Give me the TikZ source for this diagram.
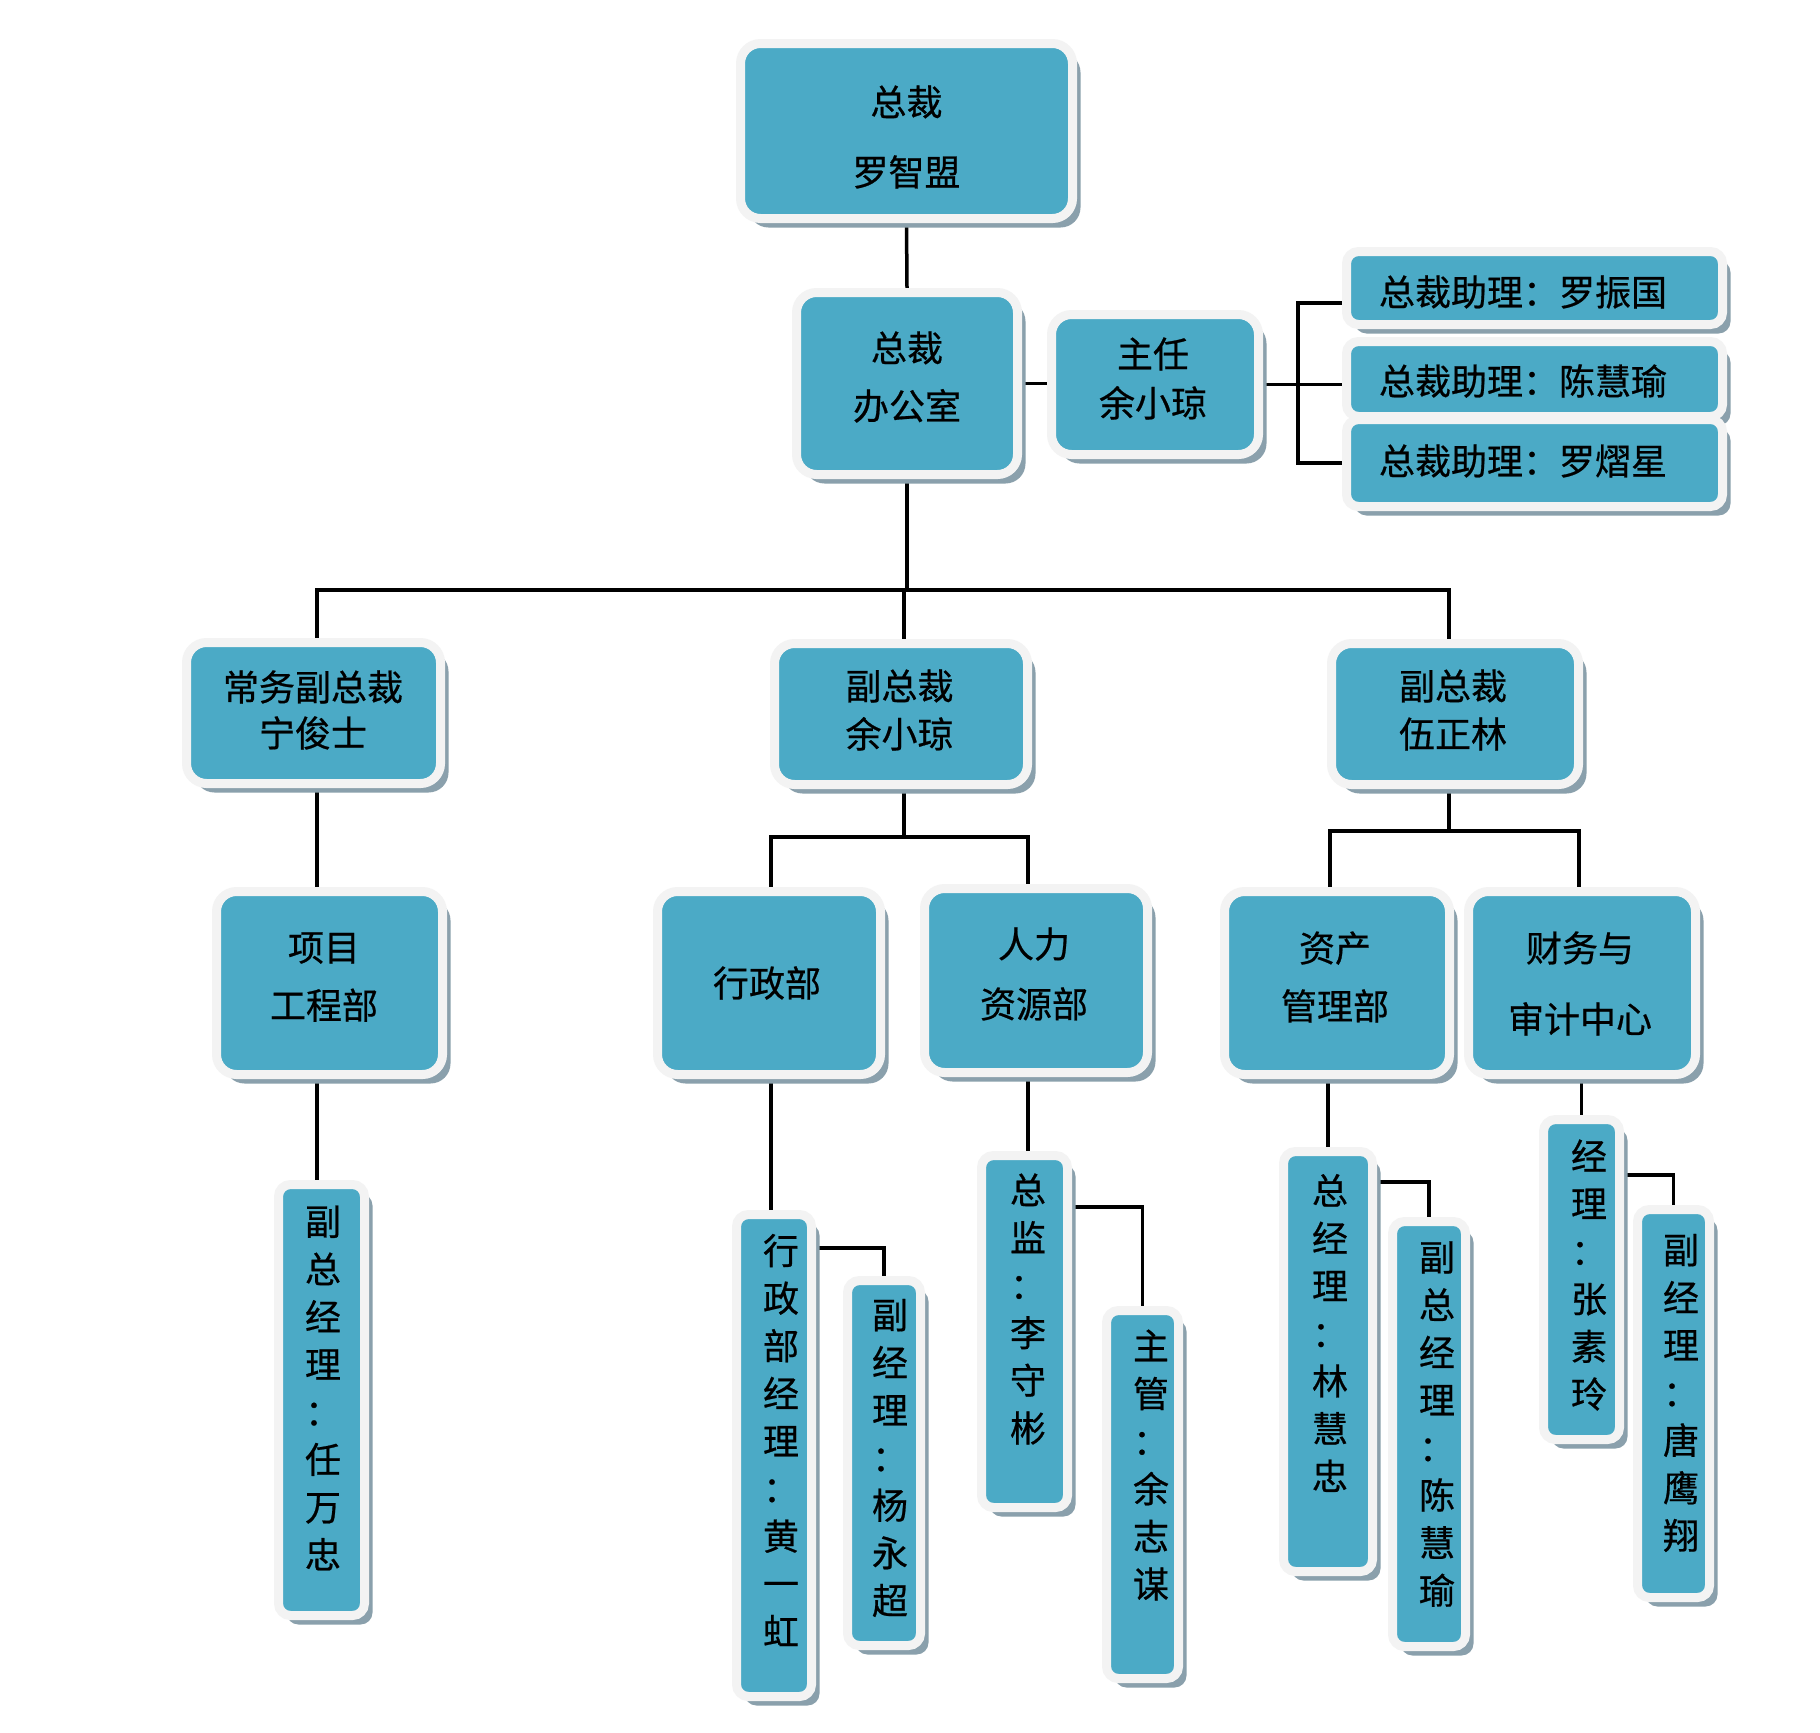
\documentclass[tikz,border=0pt]{standalone}
\usepackage{fontspec}
\setmainfont{Noto Sans CJK SC}[FakeBold=0.6]
\usetikzlibrary{shadows}
\pgfdeclarelayer{bg}
\pgfdeclarelayer{background}
\pgfsetlayers{bg,background,main}
\definecolor{boxfill}{RGB}{75,170,198}
\definecolor{boxrim}{RGB}{243,243,243}
\definecolor{boxshade}{RGB}{138,160,172}
\tikzset{
  orgbox/.style={rectangle, rounded corners=20pt, fill=boxfill, draw=boxrim, line width=9pt,
    drop shadow={shadow xshift=8pt, shadow yshift=-9pt, fill=boxshade, opacity=1}, inner sep=0pt},
  slim/.style={orgbox, rounded corners=12pt},
  lbl/.style={align=center, inner sep=0pt, text=black, font=\fontsize{36}{#1}\selectfont},
  lbl/.default=47.6,
  conn/.style={draw=black, line width=3.5pt},
}
\begin{document}
\begin{tikzpicture}[x=1pt,y=-1pt]
\begin{pgfonlayer}{bg}
  \fill[white] (0,0) rectangle (1820,1732);
\end{pgfonlayer}
\useasboundingbox (0,0) rectangle (1820,1732);

% level 0/1
\node[orgbox, minimum width=332pt, minimum height=175pt] (a) at (906.5,131) {};
\node[lbl=70] (at) at (906.5,137) {总裁\\罗智盟};
\node[orgbox, minimum width=221pt, minimum height=182pt] (b) at (907,383.5) {};
\node[lbl=58] (bt) at (907,377) {总裁\\办公室};
\node[orgbox, minimum width=207pt, minimum height=140pt] (c) at (1155,384.5) {};
\node[lbl=49] (ct) at (1153,378.5) {主任\\余小琼};

\node[slim, minimum width=376pt, minimum height=73pt] (d1) at (1534.5,288) {};
\node[lbl] (d1t) at (1523,292) {总裁助理：罗振国};
\node[slim, minimum width=376pt, minimum height=75pt] (d2) at (1534.5,379) {};
\node[lbl] (d2t) at (1523,381) {总裁助理：陈慧瑜};
\node[slim, minimum width=376pt, minimum height=87pt] (d3) at (1534.5,463) {};
\node[lbl] (d3t) at (1523,461) {总裁助理：罗熠星};

% level 2
\node[orgbox, minimum width=254pt, minimum height=141pt] (e1) at (313.5,713) {};
\node[lbl=46] (e1t) at (313,710) {常务副总裁\\宁俊士};
\node[orgbox, minimum width=253pt, minimum height=141pt] (e2) at (901,714) {};
\node[lbl=48] (e2t) at (899.5,710) {副总裁\\余小琼};
\node[orgbox, minimum width=247pt, minimum height=141pt] (e3) at (1455,714) {};
\node[lbl=48] (e3t) at (1453,710) {副总裁\\伍正林};

% level 3
\node[orgbox, minimum width=226pt, minimum height=183pt] (f1) at (329.5,983) {};
\node[lbl=58] (f1t) at (324,977) {项目\\工程部};
\node[orgbox, minimum width=223pt, minimum height=183pt] (f2) at (769,983) {};
\node[lbl] (f2t) at (767,983) {行政部};
\node[orgbox, minimum width=223pt, minimum height=184pt] (f3) at (1036,980.5) {};
\node[lbl=60] (f3t) at (1034,974) {人力\\资源部};
\node[orgbox, minimum width=225pt, minimum height=183pt] (f4) at (1337,983) {};
\node[lbl=58] (f4t) at (1335,977) {资产\\管理部};
\node[orgbox, minimum width=227pt, minimum height=183pt] (f5) at (1582,983) {};
\node[lbl=71] (f5t) at (1580,983.5) {财务与\\审计中心};

% level 4 (vertical)
\node[slim, minimum width=86pt, minimum height=431pt] (g1) at (321.5,1400) {};
\node[lbl] (g1t) at (323,1388) {副\\总\\经\\理\\：\\任\\万\\忠};
\node[slim, minimum width=75pt, minimum height=482pt] (g2) at (774,1455.5) {};
\node[lbl] (g2t) at (781,1440) {行\\政\\部\\经\\理\\：\\黄\\一\\虹};
\node[slim, minimum width=73pt, minimum height=365pt] (g3) at (884,1463) {};
\node[lbl] (g3t) at (890,1458) {副\\经\\理\\：\\杨\\永\\超};
\node[slim, minimum width=86pt, minimum height=352pt] (g4) at (1024.5,1331.5) {};
\node[lbl] (g4t) at (1028,1309) {总\\监\\：\\李\\守\\彬};
\node[slim, minimum width=72pt, minimum height=368pt] (g5) at (1142.5,1494.5) {};
\node[lbl] (g5t) at (1151,1465) {主\\管\\：\\余\\志\\谋};
\node[slim, minimum width=89pt, minimum height=420pt] (g6) at (1328,1361.5) {};
\node[lbl] (g6t) at (1330,1333) {总\\经\\理\\：\\林\\慧\\忠};
\node[slim, minimum width=73pt, minimum height=425pt] (g7) at (1429,1434) {};
\node[lbl] (g7t) at (1437,1424) {副\\总\\经\\理\\：\\陈\\慧\\瑜};
\node[slim, minimum width=76pt, minimum height=320pt] (g8) at (1581.5,1279.5) {};
\node[lbl] (g8t) at (1589,1275) {经\\理\\：\\张\\素\\玲};
\node[slim, minimum width=72pt, minimum height=388pt] (g9) at (1673.5,1403.5) {};
\node[lbl] (g9t) at (1681,1393) {副\\经\\理\\：\\唐\\鹰\\翔};

% junction coordinates
\coordinate (bk) at (1298,384.5);
\coordinate (bus) at (907,590);
\coordinate (j2) at (904,837);
\coordinate (j3) at (1449,831);
\coordinate (k2) at (884,1248);
\coordinate (k4) at (1142.5,1207);
\coordinate (k6) at (1429,1182);
\coordinate (k8) at (1673.5,1175);

\begin{pgfonlayer}{background}
  \draw[conn] (a.south) -- (b.north);
  \draw[conn] (b.east) -- (b.east -| c.west);
  \draw[conn] (c.east) -- (c.east -| d2.west);
  \draw[conn] ([yshift=-15pt]d1.west) -| (bk) |- (d3.west);
  % bus to level 2
  \draw[conn] (b.south) -- (bus);
  \draw[conn] ([xshift=3.5pt]e1.north) |- (bus) -| ([xshift=-6pt]e3.north);
  \draw[conn] ([xshift=3pt]e2.north) -- ([xshift=3pt]e2.north |- bus);
  % level 2 to level 3
  \draw[conn] ([xshift=3.5pt]e1.south) -- ([xshift=3.5pt]e1.south |- f1.north);
  \draw[conn] ([xshift=3pt]e2.south) -- (j2);
  \draw[conn] ([xshift=2pt]f2.north) |- (j2) -| ([xshift=-8pt]f3.north);
  \draw[conn] ([xshift=-6pt]e3.south) -- (j3);
  \draw[conn] ([xshift=-7pt]f4.north) |- (j3) -| ([xshift=-3pt]f5.north);
  % level 3 to level 4
  \draw[conn] ([xshift=-4.5pt]g1.north) -- ([xshift=-4.5pt]g1.north |- f1.south);
  \draw[conn] ([xshift=-3pt]g2.north) -- ([xshift=-3pt]g2.north |- f2.south);
  \draw[conn] ([xshift=3.5pt]g4.north) -- ([xshift=3.5pt]g4.north |- f3.south);
  \draw[conn] (g6.north) -- (g6.north |- f4.south);
  \draw[conn] (g8.north) -- (g8.north |- f5.south);
  % side branches
  \draw[conn] (g2.east |- k2) -| (g3.north);
  \draw[conn] (g4.east |- k4) -| (g5.north);
  \draw[conn] (g6.east |- k6) -| (g7.north);
  \draw[conn] (g8.east |- k8) -| (g9.north);
\end{pgfonlayer}
\end{tikzpicture}
\end{document}
